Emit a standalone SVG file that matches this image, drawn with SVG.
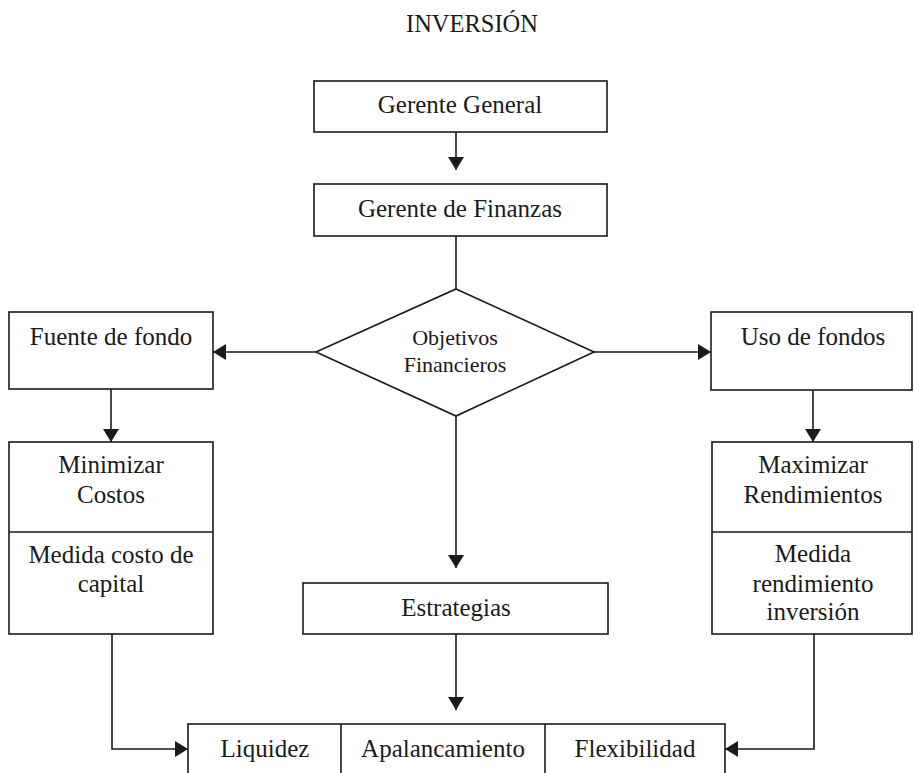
<svg xmlns="http://www.w3.org/2000/svg" width="914" height="773" viewBox="0 0 914 773">
<defs>
<marker id="ah" markerUnits="userSpaceOnUse" markerWidth="14" markerHeight="16" refX="13" refY="8" orient="auto">
<path d="M0,0 L13,8 L0,16 z" fill="#1a1a1a"/>
</marker>
<style>
.box{fill:#fff;stroke:#1a1a1a;stroke-width:1.6}
.ln{fill:none;stroke:#1a1a1a;stroke-width:1.6}
.t{font-family:"Liberation Serif","Times New Roman",serif;font-size:25px;fill:#1a1a1a;text-anchor:middle}
.s{font-size:22px}
</style>
</defs>
<rect width="914" height="773" fill="#fff"/>
<text class="t" x="472" y="32" style="font-size:24.5px">INVERSIÓN</text>
<g id="connectors">
<path class="ln" d="M456,132 V170" marker-end="url(#ah)"/>
<path class="ln" d="M456,236 V289"/>
<path class="ln" d="M316,352 H213" marker-end="url(#ah)"/>
<path class="ln" d="M594,352 H711" marker-end="url(#ah)"/>
<path class="ln" d="M111,389 V442" marker-end="url(#ah)"/>
<path class="ln" d="M813,390 V442" marker-end="url(#ah)"/>
<path class="ln" d="M456,416 V568" marker-end="url(#ah)"/>
<path class="ln" d="M456,634 V710" marker-end="url(#ah)"/>
<path class="ln" d="M112,634 V749 H188" marker-end="url(#ah)"/>
<path class="ln" d="M814,634 V749 H725" marker-end="url(#ah)"/>
</g>
<g id="gerente-general">
<rect class="box" x="314" y="81" width="293" height="51"/>
<text class="t" x="460" y="113">Gerente General</text>
</g>
<g id="gerente-finanzas">
<rect class="box" x="314" y="184" width="293" height="52"/>
<text class="t" x="460" y="217">Gerente de Finanzas</text>
</g>
<g id="objetivos">
<polygon class="box" points="456,289 594,352 456,416 316,352"/>
<text class="t s" x="455" y="345">Objetivos</text>
<text class="t s" x="455" y="372">Financieros</text>
</g>
<g id="fuente">
<rect class="box" x="9" y="312" width="204" height="77"/>
<text class="t" x="111" y="345">Fuente de fondo</text>
</g>
<g id="uso">
<rect class="box" x="711" y="312" width="201" height="78"/>
<text class="t" x="813" y="345">Uso de fondos</text>
</g>
<g id="minimizar">
<rect class="box" x="9" y="442" width="204" height="192"/>
<line class="ln" x1="9" y1="532" x2="213" y2="532"/>
<text class="t" x="111" y="473">Minimizar</text>
<text class="t" x="111" y="503">Costos</text>
<text class="t" x="111" y="563">Medida costo de</text>
<text class="t" x="111" y="592">capital</text>
</g>
<g id="maximizar">
<rect class="box" x="712" y="442" width="200" height="192"/>
<line class="ln" x1="712" y1="532" x2="912" y2="532"/>
<text class="t" x="813" y="473">Maximizar</text>
<text class="t" x="813" y="503">Rendimientos</text>
<text class="t" x="813" y="562">Medida</text>
<text class="t" x="813" y="592">rendimiento</text>
<text class="t" x="813" y="620">inversión</text>
</g>
<g id="estrategias">
<rect class="box" x="303" y="583" width="305" height="51"/>
<text class="t" x="456" y="616">Estrategias</text>
</g>
<g id="resultados">
<rect class="box" x="188" y="724" width="537" height="60"/>
<line class="ln" x1="341" y1="724" x2="341" y2="773"/>
<line class="ln" x1="545" y1="724" x2="545" y2="773"/>
<text class="t" x="265" y="757">Liquidez</text>
<text class="t" x="443" y="757">Apalancamiento</text>
<text class="t" x="635" y="757">Flexibilidad</text>
</g>
</svg>
